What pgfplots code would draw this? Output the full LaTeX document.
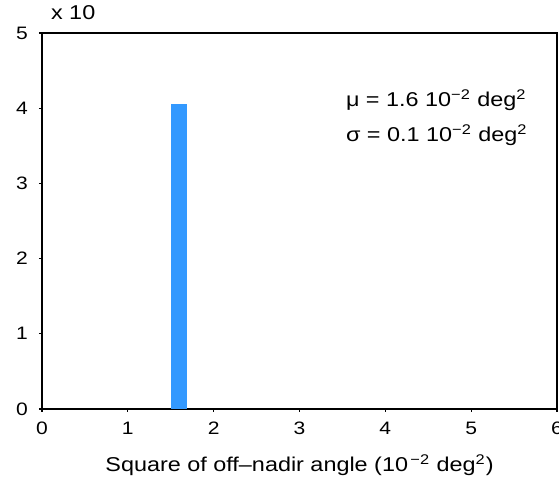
\documentclass[border=0pt]{standalone}
\usepackage{fontspec}
\setmainfont[FakeStretch=1.17]{Liberation Sans}
\usepackage{pgfplots}
\pgfplotsset{compat=1.18}
\definecolor{barblue}{RGB}{51,153,255}
\begin{document}
\fontsize{10pt}{12pt}\selectfont
\begin{tikzpicture}
\begin{axis}[
  name=ax,
  scale only axis,
  width=257.5pt, height=188pt,
  xmin=0, xmax=6, ymin=0, ymax=5,
  xtick={0,1,2,3,4,5,6},
  ytick={0,1,2,3,4,5},
  axis line style={line width=0.8pt},
  tick align=outside,
  tick style={black, line width=0.6pt},
  major tick length=1.5pt,
  xtick pos=bottom, ytick pos=left,
  /pgf/number format/assume math mode=true,
  ticklabel style={font=\fontsize{9pt}{11pt}\selectfont},
  xticklabel style={yshift=-1.5pt},
  yticklabel style={xshift=-2pt},
  xlabel={Square of off\textendash nadir angle (10\textsuperscript{\,−2} deg\textsuperscript{2})},
  xlabel style={font=\fontsize{10pt}{12pt}\selectfont, yshift=-3pt},
  clip=false,
]
\addplot[ybar interval, fill=barblue, draw=none] coordinates {(1.5,4.05) (1.69,4.05)};
\node[anchor=west, font=\fontsize{10pt}{12pt}\selectfont] at (axis cs:3.46,4.11) {μ = 1.6 10\textsuperscript{−2} deg\textsuperscript{2}};
\node[anchor=west, font=\fontsize{10pt}{12pt}\selectfont] at (axis cs:3.46,3.64) {σ = 0.1 10\textsuperscript{−2} deg\textsuperscript{2}};
\end{axis}
\node[anchor=base west, font=\fontsize{10pt}{12pt}\selectfont] at ([xshift=1pt,yshift=7pt]ax.north west) {x 10};
\pgfresetboundingbox
\path[use as bounding box] ([xshift=-21pt,yshift=-36.5pt]ax.south west) rectangle ([xshift=258.5pt,yshift=204.5pt]ax.south west);
\end{tikzpicture}
\end{document}
